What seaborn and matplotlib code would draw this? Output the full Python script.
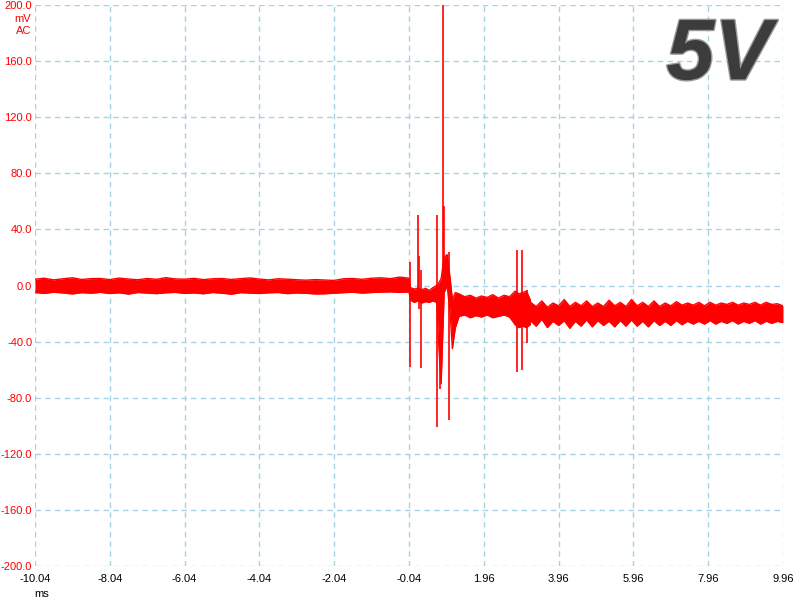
import numpy as np
import pandas as pd
import seaborn as sns
import matplotlib.pyplot as plt
import matplotlib.patheffects as pe

# noise band before the trigger (ms, mV)
pre_t = [-10.04, -9.79, -9.54, -9.29, -9.04, -8.79, -8.54, -8.29, -8.04, -7.79,
         -7.54, -7.29, -7.04, -6.79, -6.54, -6.29, -6.04, -5.79, -5.54, -5.29,
         -5.04, -4.79, -4.54, -4.29, -4.04, -3.79, -3.54, -3.29, -3.04, -2.79,
         -2.54, -2.29, -2.04, -1.79, -1.54, -1.29, -1.04, -0.79, -0.54, -0.29, -0.04]
pre_hi = [4.5, 5.2, 4.0, 4.8, 5.5, 4.3, 4.9, 5.0, 4.2, 5.3, 4.6, 4.1, 5.0, 4.4,
          5.6, 4.7, 4.5, 5.1, 4.2, 4.8, 5.0, 4.3, 4.9, 5.4, 4.6, 4.0, 4.8, 4.5,
          4.1, 3.8, 4.2, 3.9, 3.6, 4.8, 5.0, 4.4, 5.2, 5.5, 4.9, 6.0, 5.2]
pre_lo = [-5.0, -5.6, -4.8, -5.3, -6.0, -5.1, -5.5, -4.9, -5.7, -5.2, -6.1, -5.0,
          -5.4, -5.8, -5.2, -4.9, -5.6, -5.3, -5.9, -5.0, -5.5, -6.2, -5.1, -5.4,
          -5.7, -5.2, -5.0, -5.8, -5.3, -5.6, -6.0, -5.9, -5.5, -5.1, -4.8, -5.4,
          -5.0, -4.7, -4.5, -4.9, -4.6]

# switching region
mid_t = [0.0, 0.1, 0.2, 0.3, 0.4, 0.5, 0.6, 0.7, 0.76, 0.82, 0.9, 0.98, 1.06,
         1.12, 1.2, 1.3, 1.45, 1.6, 1.75, 1.9, 2.05, 2.2, 2.35, 2.5, 2.65, 2.8,
         2.9, 3.0, 3.1, 3.2]
mid_hi = [-1.5, -2.5, -2.0, -3.0, -2.0, -3.5, -1.5, 0.0, 2.0, 5.0, 20.0, 22.0,
          5.0, -10.0, -5.0, -6.0, -8.0, -7.0, -9.0, -7.5, -8.5, -6.5, -9.0, -7.0,
          -8.0, -4.0, -6.0, -5.0, -4.0, -10.0]
mid_lo = [-10.5, -12.0, -11.0, -12.5, -11.5, -12.0, -11.0, -12.0, -45.0, -70.0,
          -5.0, 0.0, -20.0, -45.0, -30.0, -22.0, -21.0, -23.0, -21.5, -22.5,
          -21.0, -23.0, -22.0, -21.0, -22.5, -28.0, -30.0, -29.0, -30.0, -28.0]

# rippled band after the switching
post_t = [3.21, 3.36, 3.51, 3.66, 3.81, 3.96, 4.11, 4.26, 4.41, 4.56, 4.71, 4.86,
          5.01, 5.16, 5.31, 5.46, 5.61, 5.76, 5.91, 6.06, 6.21, 6.36, 6.51, 6.66,
          6.81, 6.96, 7.11, 7.26, 7.41, 7.56, 7.71, 7.86, 8.01, 8.16, 8.31, 8.46,
          8.61, 8.76, 8.91, 9.06, 9.21, 9.36, 9.51, 9.66, 9.81, 9.96]
post_hi = [-12, -15, -11, -15.5, -12.5, -14.5, -10, -15, -12, -14.5, -11, -15,
           -12.5, -15, -10.5, -14.5, -12, -15, -10, -14.5, -12, -15, -11, -15,
           -12.5, -14.5, -11.5, -14, -12.5, -14, -12, -14.5, -12, -14, -12.5,
           -13.5, -12, -14, -12.5, -13.5, -12, -14, -12, -13.5, -13, -14.5]
post_lo = [-25, -29, -24, -30, -25.5, -28.5, -25, -30.5, -25.5, -29, -24.5, -29.5,
           -25, -28.5, -25.5, -29.5, -25, -29, -24.5, -29, -25.5, -29.5, -25,
           -28.5, -25.5, -28.5, -25, -28, -25.5, -27.5, -25.5, -27.5, -25, -27.5,
           -25.5, -27, -25, -27.5, -25.5, -27, -25, -27.5, -25.5, -27, -25.5, -26.5]

# narrow spikes
spike_t = [-0.01, 0.19, 0.22, 0.29, 0.72, 0.79, 0.87, 0.89, 1.04, 2.85, 2.98, 3.12]
spike_hi = [17, 50, 21, 11, 50, 0, 200, 57, 24, 25, 25, -3]
spike_lo = [-58, -8, -17, -59, -101, -74, -5, -5, -96, -62, -60, -41]

x_ticks = [-10.04, -8.04, -6.04, -4.04, -2.04, -0.04, 1.96, 3.96, 5.96, 7.96, 9.96]
y_ticks = [-200, -160, -120, -80, -40, 0, 40, 80, 120, 160, 200]


def main():
    sns.set_style("white")
    plt.rcParams['font.family'] = ['Liberation Sans', 'DejaVu Sans']

    t = np.array(pre_t + mid_t + post_t)
    hi = np.array(pre_hi + mid_hi + post_hi, dtype=float)
    lo = np.array(pre_lo + mid_lo + post_lo, dtype=float)
    df = pd.DataFrame({
        "time": np.concatenate([t, t]),
        "mV": np.concatenate([hi, lo]),
        "bound": ["hi"] * len(t) + ["lo"] * len(t),
    })

    fig = plt.figure(figsize=(8, 6), dpi=100)
    ax = fig.add_axes([35 / 800, 1 - 566 / 600, 748 / 800, 561 / 600])

    ax.fill_between(t, lo, hi, color="#ff0000", lw=0, zorder=3)
    sns.lineplot(data=df, x="time", y="mV", hue="bound",
                 palette=["#ff0000", "#ff0000"], estimator=None, sort=False,
                 lw=1, legend=False, ax=ax, zorder=3)
    ax.vlines(spike_t, spike_lo, spike_hi, color="#ff0000", lw=1.2, zorder=4)

    ax.set_xlim(x_ticks[0], x_ticks[-1])
    ax.set_ylim(-200, 200)
    ax.set_xticks(x_ticks)
    ax.set_yticks(y_ticks)
    ax.set_xticklabels([f"{v:.2f}" for v in x_ticks])
    ax.set_yticklabels([f"{v:.1f}" for v in y_ticks])
    ax.grid(True, color="#a6d4e3", ls=(0, (4, 3)), lw=1)
    for s in ax.spines.values():
        s.set_visible(False)
    ax.tick_params(axis="both", length=0, labelsize=8)
    ax.tick_params(axis="y", colors="#ff0000", pad=2)
    ax.tick_params(axis="x", colors="black", pad=6)
    ax.set_xlabel("")
    ax.set_ylabel("")

    fig.text(31 / 800, 1 - 19 / 600, "mV", color="#ff0000", fontsize=8,
             ha="right", va="center")
    fig.text(31 / 800, 1 - 31 / 600, "AC", color="#ff0000", fontsize=8,
             ha="right", va="center")
    fig.text(42 / 800, 1 - 594 / 600, "ms", color="black", fontsize=8,
             ha="center", va="center")

    ax.text(0.985, 0.978, "5V", transform=ax.transAxes, ha="right", va="top",
            fontsize=62, fontweight="bold", style="italic", color="#3c3c3c",
            zorder=5,
            path_effects=[pe.withStroke(linewidth=2, foreground="#9a9a9a")])

    fig.savefig("out.png", dpi=100)
    plt.close(fig)


if __name__ == '__main__':
    main()
